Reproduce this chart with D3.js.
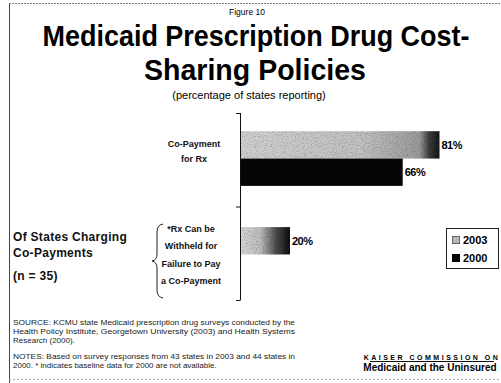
<!DOCTYPE html>
<html><head><meta charset="utf-8">
<script src="https://cdn.jsdelivr.net/npm/d3@7"></script>
<style>body{margin:0;background:#fff}svg{display:block;font-family:"Liberation Sans",Arial,sans-serif}</style>
</head><body>
<script>
const categories = ["Co-Payment for Rx", "*Rx Can be Withheld for Failure to Pay a Co-Payment"];
const categoryLines = [["Co-Payment", "for Rx"], ["*Rx Can be", "Withheld for", "Failure to Pay", "a Co-Payment"]];
const seriesNames = ["2003", "2000"];
const values2003 = [81, 20];
const values2000 = [66, null];
const valueLabels2003 = ["81%", "20%"];
const valueLabels2000 = ["66%", null];

const W = 501, H = 383;
const svg = d3.select("body").append("svg").attr("width", W).attr("height", H);

const defs = svg.append("defs");
const grad = defs.append("linearGradient").attr("id", "g2003");
[[0, "#d0d0d0"], [0.6, "#c2c2c2"], [0.9, "#9a9a9a"], [0.95, "#3a3a3a"], [1, "#1a1a1a"]]
  .forEach(([o, c]) => grad.append("stop").attr("offset", o).attr("stop-color", c));
const grad2 = defs.append("linearGradient").attr("id", "g2003s");
[[0, "#d6d6d6"], [0.4, "#bdbdbd"], [0.72, "#4a4a4a"], [1, "#111"]]
  .forEach(([o, c]) => grad2.append("stop").attr("offset", o).attr("stop-color", c));
const f = defs.append("filter").attr("id", "noise").attr("x", 0).attr("y", 0).attr("width", 1).attr("height", 1);
f.append("feTurbulence").attr("type", "fractalNoise").attr("baseFrequency", 0.9).attr("numOctaves", 2).attr("seed", 3).attr("result", "n");
f.append("feColorMatrix").attr("in", "n").attr("type", "matrix")
  .attr("values", "0 0 0 0 0  0 0 0 0 0  0 0 0 0 0  0 0 0 1.2 -0.55").attr("result", "na");
f.append("feComposite").attr("in", "na").attr("in2", "SourceGraphic").attr("operator", "in").attr("result", "nc");
f.append("feMerge").selectAll("feMergeNode").data(["SourceGraphic", "nc"]).join("feMergeNode").attr("in", d => d);

// frame
svg.append("line").attr("x1", 9.5).attr("x2", 9.5).attr("y1", 3).attr("y2", 383).attr("stroke", "#444").attr("stroke-width", 1);
svg.append("line").attr("x1", 9).attr("x2", 501).attr("y1", 3.5).attr("y2", 3.5).attr("stroke", "#777").attr("stroke-dasharray", "2,1");
svg.append("line").attr("x1", 9).attr("x2", 501).attr("y1", 379.5).attr("y2", 379.5).attr("stroke", "#aaa").attr("stroke-dasharray", "2,2");

// titles
svg.append("text").attr("x", 247).attr("y", 15).attr("text-anchor", "middle").attr("font-size", 8.5).text("Figure 10");
svg.append("text").attr("x", 256).attr("y", 46).attr("text-anchor", "middle").attr("font-size", 29).attr("font-weight", "bold")
  .attr("textLength", 427).attr("lengthAdjust", "spacingAndGlyphs").text("Medicaid Prescription Drug Cost-");
svg.append("text").attr("x", 255).attr("y", 80).attr("text-anchor", "middle").attr("font-size", 29).attr("font-weight", "bold")
  .attr("textLength", 222).attr("lengthAdjust", "spacingAndGlyphs").text("Sharing Policies");
svg.append("text").attr("x", 249).attr("y", 99).attr("text-anchor", "middle").attr("font-size", 11).text("(percentage of states reporting)");

// scales
const y = d3.scaleBand().domain(categories).range([113, 300]).paddingInner(0.43).paddingOuter(0.19);
const ys = d3.scaleBand().domain(seriesNames).range([0, y.bandwidth()]);
const x = d3.scaleLinear().domain([0, 100]).range([241, 486]);

// axis line with ticks at band boundaries
const bounds = [113, (y(categories[0]) + y.bandwidth() + y(categories[1])) / 2, 300];
const ax = svg.append("g");
ax.append("line").attr("x1", 240.5).attr("x2", 240.5).attr("y1", 113).attr("y2", 300).attr("stroke", "#111");
ax.selectAll("line.t").data(bounds).join("line").attr("class", "t")
  .attr("x1", 236).attr("x2", 240.5).attr("y1", d => d + 0.5).attr("y2", d => d + 0.5).attr("stroke", "#111");

// bars
const g = svg.append("g");
categories.forEach((c, i) => {
  const v3 = values2003[i], v0 = values2000[i];
  if (v3 != null) {
    g.append("rect").attr("x", x(0)).attr("y", y(c) + ys("2003")).attr("width", x(v3) - x(0)).attr("height", ys.bandwidth())
      .attr("fill", v3 > 50 ? "url(#g2003)" : "url(#g2003s)").attr("filter", "url(#noise)");
    g.append("text").attr("x", x(v3) + 2).attr("y", y(c) + ys("2003") + ys.bandwidth() / 2 + 4)
      .attr("font-size", 11).attr("font-weight", "bold").attr("letter-spacing", -0.5).text(valueLabels2003[i]);
  }
  if (v0 != null) {
    g.append("rect").attr("x", x(0)).attr("y", y(c) + ys("2000")).attr("width", x(v0) - x(0)).attr("height", ys.bandwidth())
      .attr("fill", "#050505");
    g.append("text").attr("x", x(v0) + 2).attr("y", y(c) + ys("2000") + ys.bandwidth() / 2 + 4)
      .attr("font-size", 11).attr("font-weight", "bold").attr("letter-spacing", -0.5).text(valueLabels2000[i]);
  }
});

// category labels
const lab = svg.append("g").attr("font-size", 9).attr("font-weight", "bold").attr("fill", "#111").attr("text-anchor", "middle");
lab.append("text").attr("x", 194).attr("y", 147).text(categoryLines[0][0]);
lab.append("text").attr("x", 194).attr("y", 162).text(categoryLines[0][1]);
categoryLines[1].forEach((t, k) => lab.append("text").attr("x", 191).attr("y", 232 + k * 17.3).text(t));

// left brace
svg.append("path").attr("fill", "none").attr("stroke", "#222").attr("stroke-width", 1)
  .attr("d", "M163,224 Q157,225 157,232 L157,254 Q157,260 152,261 Q157,262 157,268 L157,290 Q157,297 163,298");

// group label
const gl = svg.append("g").attr("font-size", 12).attr("font-weight", "bold").attr("fill", "#111").attr("letter-spacing", 0.3);
gl.append("text").attr("x", 13).attr("y", 241).text("Of States Charging");
gl.append("text").attr("x", 13).attr("y", 257).text("Co-Payments");
gl.append("text").attr("x", 13).attr("y", 280).text("(n = 35)");

// legend
const lg = svg.append("g");
lg.append("rect").attr("x", 446.5).attr("y", 228.5).attr("width", 52).attr("height", 40).attr("fill", "#fff").attr("stroke", "#222");
lg.append("rect").attr("x", 452).attr("y", 236).attr("width", 8).attr("height", 8).attr("fill", "#c0c0c0").attr("stroke", "#222").attr("filter", "url(#noise)");
lg.append("rect").attr("x", 452).attr("y", 254).attr("width", 8).attr("height", 8).attr("fill", "#050505");
lg.append("text").attr("x", 463).attr("y", 244).attr("font-size", 11).attr("font-weight", "bold").text(seriesNames[0]);
lg.append("text").attr("x", 463).attr("y", 262).attr("font-size", 11).attr("font-weight", "bold").text(seriesNames[1]);

// footnotes
const fn = svg.append("g").attr("font-size", 8).attr("fill", "#222");
[["SOURCE: KCMU state Medicaid prescription drug surveys conducted by the", 325],
 ["Health Policy Institute, Georgetown University (2003) and Health Systems", 334],
 ["Research (2000).", 343],
 ["NOTES: Based on survey responses from 43 states in 2003 and 44 states in", 359],
 ["2000. * indicates baseline data for 2000 are not available.", 368]]
 .forEach(([t, yy]) => fn.append("text").attr("x", 13).attr("y", yy).attr("textLength", t.length > 60 ? 282 : null)
   .attr("lengthAdjust", "spacingAndGlyphs").text(t));

// logo
svg.append("text").attr("x", 432).attr("y", 360).attr("text-anchor", "middle").attr("font-size", 7).attr("font-weight", "bold")
  .attr("letter-spacing", 2.5).text("KAISER COMMISSION ON");
svg.append("line").attr("x1", 370).attr("x2", 494).attr("y1", 361.5).attr("y2", 361.5).attr("stroke", "#111");
svg.append("text").attr("x", 430).attr("y", 371).attr("text-anchor", "middle").attr("font-size", 10).attr("font-weight", "bold")
  .text("Medicaid and the Uninsured");
</script>
</body></html>
